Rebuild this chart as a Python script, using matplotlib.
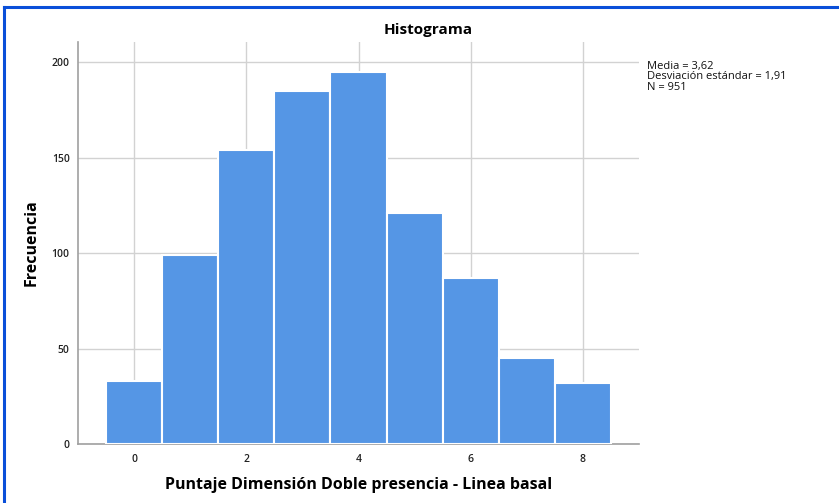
import matplotlib
matplotlib.use("Agg")
import matplotlib.pyplot as plt
from matplotlib.lines import Line2D

values = [0, 1, 2, 3, 4, 5, 6, 7, 8]
counts = [33, 99, 154, 185, 195, 121, 87, 45, 32]
xticks = [0, 2, 4, 6, 8]
yticks = [0, 50, 100, 150, 200]
title = "Histograma"
xlabel = "Puntaje Dimensión Doble presencia - Linea basal"
ylabel = "Frecuencia"
stats = "Media = 3,62\nDesviación estándar = 1,91\nN = 951"

plt.rcParams['font.family'] = ['Open Sans', 'DejaVu Sans']

W, H = 839, 503
fig = plt.figure(figsize=(W/100, H/100), dpi=100)
ax = fig.add_axes([78/W, 1-444/H, (639-78)/W, (444-42)/H])

ax.bar(values, counts, width=1.0, color='#5596e5', edgecolor='white', linewidth=1.5, zorder=3)
ax.set_xlim(-1, 9)
ax.set_ylim(0, 210.5)
ax.set_xticks(xticks)
ax.set_yticks(yticks)
ax.grid(True, color='#d2d2d2', linewidth=1.0, zorder=0)
ax.set_axisbelow(True)
for s in ['top', 'right']:
    ax.spines[s].set_visible(False)
for s in ['left', 'bottom']:
    ax.spines[s].set_color('#a0a0a0')
    ax.spines[s].set_linewidth(1.2)
ax.tick_params(axis='both', length=0, labelsize=7.5, labelcolor='#222222')
ax.tick_params(axis='x', pad=7)
ax.tick_params(axis='y', pad=6)
for lbl in ax.get_xticklabels() + ax.get_yticklabels():
    lbl.set_fontweight('semibold')

fig.text(428/W, 1-30/H, title, ha='center', va='center', fontsize=11, fontweight='bold')
fig.text(359/W, 1-485/H, xlabel, ha='center', va='center', fontsize=11.5, fontweight='bold')
fig.text(32/W, 1-243/H, ylabel, ha='center', va='center', rotation=90, fontsize=11.5, fontweight='bold')
fig.text(647/W, 1-61/H, stats, ha='left', va='top', fontsize=8, linespacing=0.92, color='#111111')

fig.add_artist(Line2D([4/W, 4/W], [0, 1-7/H], transform=fig.transFigure, color='#0a4fd9', linewidth=2.2))
fig.add_artist(Line2D([4/W, 1], [1-7/H, 1-7/H], transform=fig.transFigure, color='#0a4fd9', linewidth=2.2))

fig.savefig('out.png', dpi=100)
